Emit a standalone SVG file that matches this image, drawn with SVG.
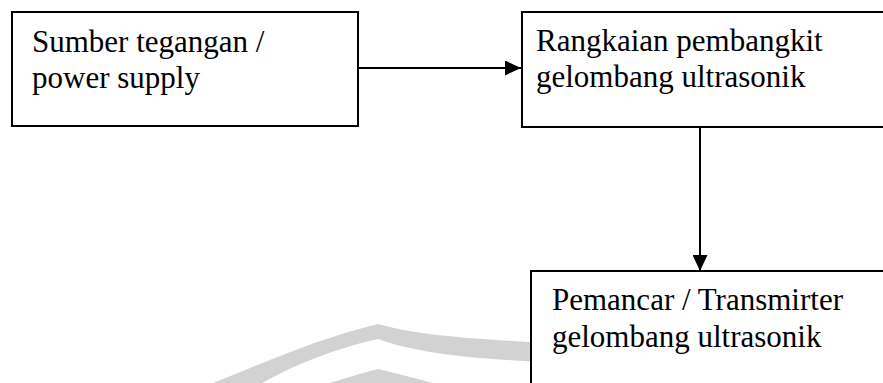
<svg xmlns="http://www.w3.org/2000/svg" width="883" height="383" viewBox="0 0 883 383">
  <style>
    .box { fill: #ffffff; stroke: #000000; stroke-width: 2; }
    .lbl { font-family: "Liberation Serif", "Times New Roman", serif; font-size: 31px; fill: #000000; }
    .conn { stroke: #000000; stroke-width: 2; fill: none; }
    .wm { fill: #d2d2d2; stroke: none; }
  </style>
  <defs>
    <marker id="arrow" viewBox="0 0 16 15" refX="16" refY="7.5" markerWidth="16" markerHeight="15" markerUnits="userSpaceOnUse" orient="auto">
      <path d="M0,0 L16,7.5 L0,15 Z" fill="#000000"/>
    </marker>
  </defs>
  <rect width="883" height="383" fill="#ffffff"/>
  <g id="watermark">
    <path class="wm" d="M213,383 C270,360 320,338 378,324 C420,336 470,338 540,343 L540,362 C470,358 420,354 378,339 C330,350 295,365 262,383 Z"/>
    <path class="wm" d="M330,383 C345,378 360,374 378,369 C398,374 415,378 433,383 Z"/>
  </g>
  <g id="connectors">
    <line class="conn" x1="358" y1="68" x2="521" y2="68" marker-end="url(#arrow)"/>
    <line class="conn" x1="700" y1="127" x2="700" y2="271" marker-end="url(#arrow)"/>
  </g>
  <g id="node-power">
    <rect class="box" x="12" y="12" width="346" height="114"/>
    <text class="lbl" x="32" y="52">Sumber tegangan /</text>
    <text class="lbl" x="32" y="88">power supply</text>
  </g>
  <g id="node-generator">
    <rect class="box" x="522" y="12" width="400" height="115"/>
    <text class="lbl" x="536" y="51">Rangkaian pembangkit</text>
    <text class="lbl" x="536" y="87">gelombang ultrasonik</text>
  </g>
  <g id="node-transmitter">
    <rect class="box" x="531" y="271" width="400" height="150"/>
    <text class="lbl" x="552" y="310">Pemancar / Transmirter</text>
    <text class="lbl" x="552" y="347">gelombang ultrasonik</text>
  </g>
</svg>
